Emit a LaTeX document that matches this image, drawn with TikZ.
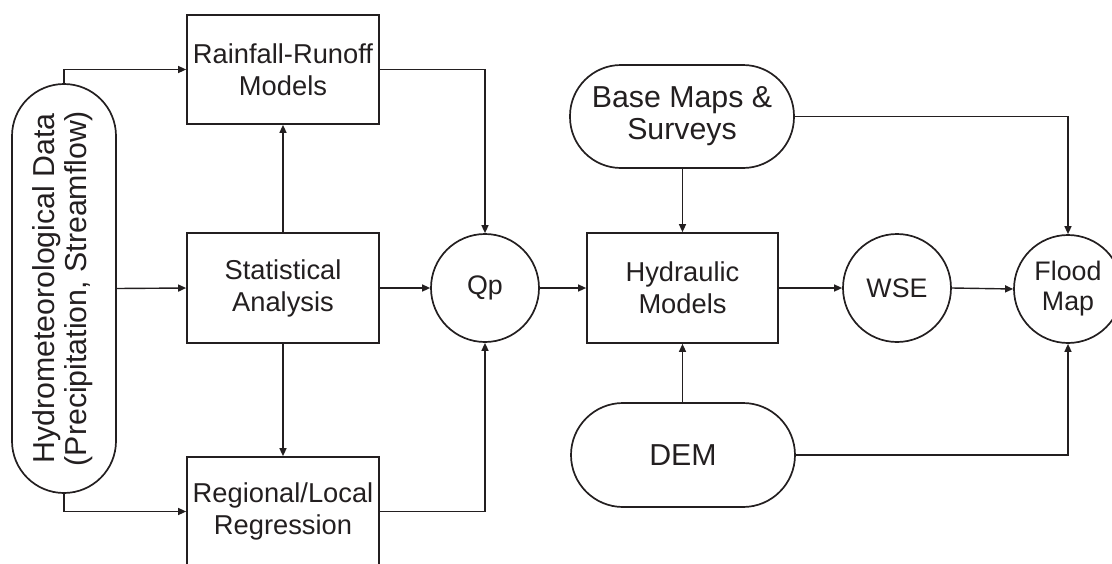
\documentclass[tikz,border=0pt]{standalone}
\usepackage{fontspec}
\setmainfont{Liberation Sans}
\usetikzlibrary{arrows.meta}
\definecolor{ink}{HTML}{231F20}
\begin{document}
\begin{tikzpicture}[x=1pt,y=-1pt,
  every node/.style={text=ink},
  boxnode/.style={draw=ink,line width=1.7pt,rectangle,minimum width=192pt,minimum height=110pt,align=center,inner sep=0pt,
    font=\fontsize{27.3}{32}\selectfont},
  pill/.style={draw=ink,line width=1.7pt,rectangle,rounded corners=51pt,align=center,inner sep=0pt,
    font=\fontsize{30.3}{32}\selectfont},
  circ/.style={draw=ink,line width=1.7pt,circle,minimum size=108pt,align=center,inner sep=0pt,
    font=\fontsize{26.8}{30}\selectfont},
  arr/.style={draw=ink,line width=1.4pt,-{Triangle[length=8pt,width=7pt]}},
  ln/.style={draw=ink,line width=1.4pt}]
\useasboundingbox (0,0) rectangle (1112,563);
\clip (0,0) rectangle (1112,563);

\node[pill,minimum width=104pt,minimum height=409pt,rounded corners=52pt] (hyd) at (64,288.5)
  {\rotatebox{90}{\begin{tabular}{@{}c@{}}Hydrometeorological Data\\[0pt](Precipitation, Streamflow)\end{tabular}}};
\node[boxnode,minimum height=109pt] (rr) at (283,69.5) {Rainfall-Runoff\\Models};
\node[boxnode] (stat) at (283,288) {Statistical\\Analysis};
\node[boxnode,minimum height=109pt] (reg) at (283,511.5) {Regional/Local\\Regression};
\node[circ] (qp) at (485,288) {Qp};
\node[boxnode,minimum width=191pt] (hydr) at (682.5,288) {Hydraulic\\Models};
\node[pill,minimum width=224pt,minimum height=103pt] (base) at (682,116.5) {Base Maps \&\\Surveys};
\node[pill,minimum width=224pt,minimum height=104pt,rounded corners=52pt] (dem) at (683,455) {DEM};
\node[circ] (wse) at (897,288) {WSE};
\node[circ] (flood) at (1068,289) {Flood\\Map};

\draw[arr] (hyd.north) |- (rr.west);
\draw[arr] (hyd.east) -- (stat.west);
\draw[arr] (hyd.south) |- (reg.west);
\draw[arr] (stat.north) -- (rr.south);
\draw[arr] (stat.south) -- (reg.north);
\draw[arr] (rr.east) -| (qp.north);
\draw[arr] (stat.east) -- (qp.west);
\draw[arr] (reg.east) -| (qp.south);
\draw[arr] (qp.east) -- (hydr.west);
\draw[arr] (base.south -| hydr.north) -- (hydr.north);
\draw[arr] (dem.north -| hydr.south) -- (hydr.south);
\draw[arr] (hydr.east) -- (wse.west);
\draw[arr] (wse.east) -- (flood.west);
\draw[arr] (base.east) -| (flood.north);
\draw[arr] (dem.east) -| (flood.south);
\end{tikzpicture}
\end{document}
